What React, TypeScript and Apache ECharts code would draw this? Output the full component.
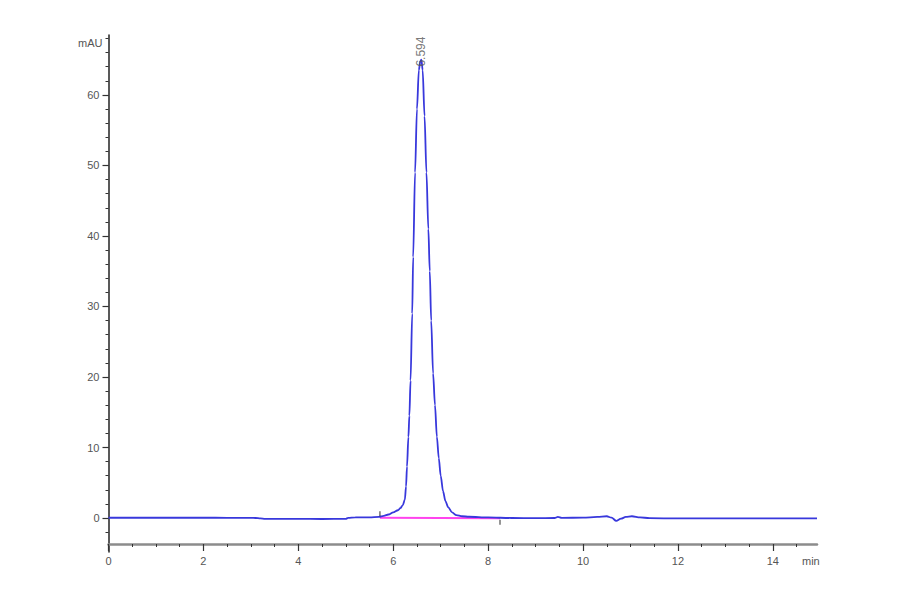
import { useEffect, useRef } from "react";
import * as echarts from "echarts";

// retention time (min) and absorbance (mAU)
const traceTime = [
  0, 0.5, 1, 1.5, 2, 2.5, 3, 3.1, 3.2, 3.3, 3.6, 4, 4.5, 5, 5.05, 5.2, 5.5, 5.7,
  5.8, 5.9, 6, 6.1, 6.15, 6.2, 6.245, 6.27, 6.29, 6.32, 6.34, 6.365, 6.4, 6.42,
  6.46, 6.5, 6.54, 6.57, 6.594, 6.62, 6.66, 6.7, 6.74, 6.77, 6.8, 6.84, 6.88,
  6.92, 6.96, 7, 7.05, 7.1, 7.16, 7.24, 7.33, 7.45, 7.6, 8, 8.5, 9, 9.4, 9.47,
  9.55, 10, 10.3, 10.5, 10.6, 10.7, 10.8, 10.9, 11.03, 11.2, 11.4, 12, 13, 14,
  14.93,
];
const traceMAU = [
  0.04, 0.04, 0.04, 0.04, 0.04, 0.03, 0.03, 0, -0.05, -0.12, -0.13, -0.13, -0.14,
  -0.12, 0.02, 0.08, 0.1, 0.15, 0.3, 0.5, 0.8, 1.1, 1.4, 1.8, 2.6, 4.5, 7.3, 11.5,
  14.5, 19.5, 29, 37, 49, 58, 63.5, 64.8, 65, 63.5, 57, 49, 41, 35, 28, 20.5, 16,
  11.5, 8.5, 6, 3.8, 2.4, 1.5, 0.8, 0.4, 0.25, 0.18, 0.08, 0, -0.03, 0, 0.15, 0.02,
  0.05, 0.15, 0.25, 0.05, -0.4, -0.1, 0.15, 0.25, 0.1, -0.03, -0.05, -0.05, -0.05,
  -0.05,
];

// integration baseline (start, end)
const baselineTime = [5.72, 8.25];
const baselineMAU = [0.05, -0.02];

// peak annotation
const peakTimes = [6.594];
const peakHeights = [64.3];
const peakLabels = ["6.594"];

const xMajorTicks = [0, 2, 4, 6, 8, 10, 12, 14];
const xMinorTicks = [
  0, 0.5, 1, 1.5, 2, 2.5, 3, 3.5, 4, 4.5, 5, 5.5, 6, 6.5, 7, 7.5, 8, 8.5, 9, 9.5,
  10, 10.5, 11, 11.5, 12, 12.5, 13, 13.5, 14, 14.5,
];
const yMajorTicks = [0, 10, 20, 30, 40, 50, 60];
const yMinorTicks = [
  -2, 0, 2, 4, 6, 8, 10, 12, 14, 16, 18, 20, 22, 24, 26, 28, 30, 32, 34, 36, 38,
  40, 42, 44, 46, 48, 50, 52, 54, 56, 58, 60, 62, 64, 66, 68,
];

const X_MIN = 0;
const X_MAX = 14.93;
const Y_MIN = -4.82;
const Y_MAX = 68.5;

const labelFont = {
  fontFamily: "'Liberation Sans', Arial, sans-serif",
  fontSize: 11,
  color: "#555",
};

export default function App() {
  const chartRef = useRef<HTMLDivElement>(null);

  useEffect(() => {
    if (!chartRef.current) return;
    const chart = echarts.init(chartRef.current, undefined, { renderer: "svg" });

    const trace = traceTime.map((t, i) => [t, traceMAU[i]]);
    const baseline = baselineTime.map((t, i) => [t, baselineMAU[i]]);
    const peaks = peakTimes.map((t, i) => ({ value: [t, peakHeights[i]], name: peakLabels[i] }));

    const xBase = {
      type: "value" as const,
      min: X_MIN,
      max: X_MAX,
      position: "bottom" as const,
      offset: -8,
      splitLine: { show: false },
    };
    const yBase = {
      type: "value" as const,
      min: Y_MIN,
      max: Y_MAX,
      position: "left" as const,
      splitLine: { show: false },
    };

    const option: echarts.EChartsOption = {
      animation: false,
      backgroundColor: "#fff",
      grid: { left: 108.5, right: 83, top: 35, bottom: 42 },
      xAxis: [
        {
          ...xBase,
          axisLine: { show: true, onZero: false, lineStyle: { color: "#8c8c8c", width: 2.5 } },
          axisTick: {
            show: true,
            customValues: xMinorTicks,
            length: 3,
            lineStyle: { color: "#333", width: 1 },
          },
          axisLabel: { customValues: xMajorTicks, margin: 11, ...labelFont },
        },
        {
          ...xBase,
          axisLine: { show: false, onZero: false },
          axisTick: {
            show: true,
            customValues: xMajorTicks,
            length: 7,
            lineStyle: { color: "#333", width: 1.2 },
          },
          axisLabel: { show: false },
        },
      ],
      yAxis: [
        {
          ...yBase,
          axisLine: { show: true, onZero: false, lineStyle: { color: "#222", width: 1.5 } },
          axisTick: {
            show: true,
            customValues: yMinorTicks,
            length: 3,
            lineStyle: { color: "#333", width: 1 },
          },
          axisLabel: { customValues: yMajorTicks, margin: 9, ...labelFont },
        },
        {
          ...yBase,
          axisLine: { show: false, onZero: false },
          axisTick: {
            show: true,
            customValues: yMajorTicks,
            length: 6,
            lineStyle: { color: "#333", width: 1.2 },
          },
          axisLabel: { show: false },
        },
      ],
      series: [
        {
          type: "line",
          data: baseline,
          symbol: "none",
          lineStyle: { color: "#ff44ee", width: 2 },
          z: 2,
        },
        {
          type: "line",
          data: trace,
          symbol: "none",
          smooth: 0.3,
          smoothMonotone: "x",
          lineStyle: { color: "#3838dc", width: 1.8 },
          z: 3,
        },
        {
          type: "scatter",
          data: baseline.map((p, i) => ({
            value: p,
            symbolOffset: [0, i === 0 ? -4 : 4],
          })),
          symbol: "rect",
          symbolSize: [1.2, 5],
          itemStyle: { color: "#222" },
          z: 4,
        },
        {
          type: "scatter",
          data: peaks,
          symbolSize: 0,
          label: {
            show: true,
            position: "inside",
            rotate: 90,
            align: "left",
            verticalAlign: "middle",
            offset: [-2, 0],
            formatter: (p: any) => p.name,
            fontFamily: "'Liberation Sans', Arial, sans-serif",
            fontSize: 12,
            color: "#555",
          },
          z: 5,
        },
      ],
      graphic: [
        {
          type: "text",
          left: 78,
          top: 37,
          style: { text: "mAU", fontFamily: labelFont.fontFamily, fontSize: 11, fill: "#555" },
        },
        {
          type: "text",
          left: 802,
          top: 555,
          style: { text: "min", fontFamily: labelFont.fontFamily, fontSize: 11, fill: "#555" },
        },
      ],
    };

    chart.setOption(option);
    return () => {
      chart.dispose();
    };
  }, []);

  return (
    <div
      ref={chartRef}
      style={{ position: "fixed", left: 0, top: 0, width: 900, height: 594 }}
    />
  );
}
